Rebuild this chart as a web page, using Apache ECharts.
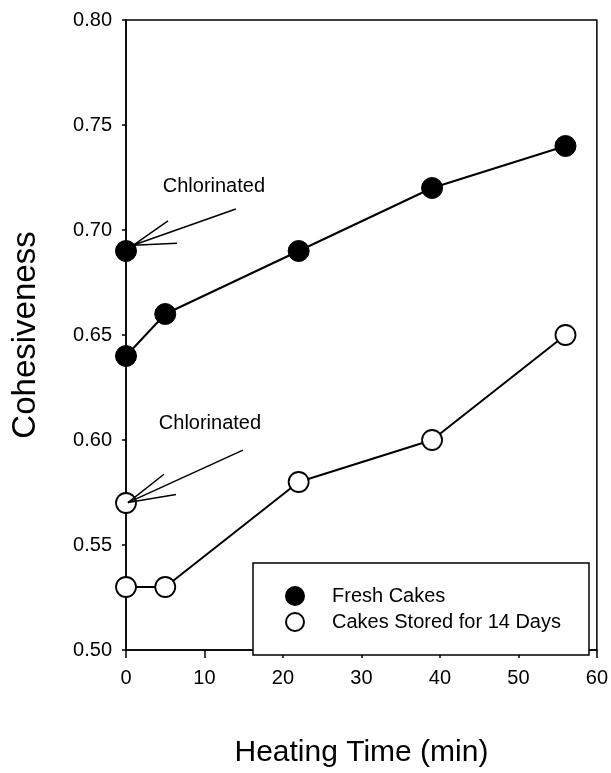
<!DOCTYPE html>
<html>
<head>
<meta charset="utf-8">
<script src="https://cdn.jsdelivr.net/npm/echarts@6/dist/echarts.min.js"></script>
<style>
  html, body { margin: 0; padding: 0; background: #fff; }
  #chart { width: 611px; height: 773px; }
</style>
</head>
<body>
<div id="chart"></div>
<script>
// heating time (min)
const timeFresh = [0, 5, 22, 39, 56]
const fresh = [0.64, 0.66, 0.69, 0.72, 0.74]
const timeStored = [0, 5, 22, 39, 56]
const stored = [0.53, 0.53, 0.58, 0.60, 0.65]
// chlorinated samples, not joined to the lines
const freshChlorinated = [[0, 0.69]]
const storedChlorinated = [[0, 0.57]]

// annotation arrows in data units: tip, tail, two head ends, text centre
const arrows = [
    { tip: [0.9, 0.6927], tail: [14.0, 0.710], heads: [[5.35, 0.7043], [6.5, 0.6937]], text: [11.2, 0.7205] },
    { tip: [0.25, 0.5702], tail: [14.9, 0.5952], heads: [[4.84, 0.5837], [6.37, 0.574]], text: [10.7, 0.6081] }
]

const font = 'Liberation Sans, Arial, Helvetica, sans-serif'

const zip = (xs, ys) => xs.map((x, i) => [x, ys[i]])

const chart = echarts.init(document.getElementById('chart'))

const option = {
    animation: false,
    backgroundColor: '#fff',
    grid: {
        left: 126,
        right: 14,
        top: 20,
        bottom: 104,
        show: true,
        borderColor: '#000',
        borderWidth: 1.5,
        backgroundColor: 'transparent'
    },
    legend: {
        data: ['Fresh Cakes', 'Cakes Stored for 14 Days'],
        orient: 'vertical',
        left: 253,
        top: 563,
        padding: [23, 28, 23, 32],
        itemGap: 6,
        itemWidth: 18,
        itemHeight: 18,
        icon: 'circle',
        borderColor: '#000',
        borderWidth: 1.5,
        backgroundColor: '#fff',
        textStyle: { fontFamily: font, fontSize: 20, lineHeight: 20, color: '#000', padding: [0, 0, 0, 23] }
    },
    xAxis: {
        type: 'value',
        min: 0,
        max: 60,
        interval: 10,
        name: 'Heating Time (min)',
        nameLocation: 'middle',
        nameGap: 88,
        nameTextStyle: { fontFamily: font, fontSize: 30, color: '#000' },
        axisLine: { lineStyle: { color: '#000', width: 1.5 } },
        axisTick: { inside: false, length: 8, lineStyle: { color: '#000', width: 1.5 } },
        axisLabel: { fontFamily: font, fontSize: 20, color: '#000', margin: 18 },
        splitLine: { show: false }
    },
    yAxis: {
        type: 'value',
        min: 0.5,
        max: 0.8,
        interval: 0.05,
        name: 'Cohesiveness',
        nameLocation: 'middle',
        nameGap: 84,
        nameTextStyle: { fontFamily: font, fontSize: 33, color: '#000' },
        axisLine: { show: true, lineStyle: { color: '#000', width: 1.5 } },
        axisTick: { show: true, inside: false, length: 4, lineStyle: { color: '#000', width: 1.5 } },
        axisLabel: {
            fontFamily: font, fontSize: 20, color: '#000', margin: 14,
            formatter: v => v.toFixed(2)
        },
        splitLine: { show: false }
    },
    series: [
        {
            name: 'Fresh Cakes',
            type: 'line',
            data: zip(timeFresh, fresh),
            symbol: 'circle',
            symbolSize: 21,
            showAllSymbol: true,
            lineStyle: { color: '#000', width: 2 },
            itemStyle: { color: '#000', borderColor: '#000', borderWidth: 1, opacity: 1 },
            z: 3
        },
        {
            name: 'Cakes Stored for 14 Days',
            type: 'line',
            data: zip(timeStored, stored),
            symbol: 'circle',
            symbolSize: 20,
            showAllSymbol: true,
            lineStyle: { color: '#000', width: 2 },
            itemStyle: { color: '#fff', borderColor: '#000', borderWidth: 1.8, opacity: 1 },
            z: 3
        },
        {
            name: 'Fresh chlorinated',
            type: 'scatter',
            data: freshChlorinated,
            symbol: 'circle',
            symbolSize: 21,
            itemStyle: { color: '#000', borderColor: '#000', borderWidth: 1, opacity: 1 },
            z: 4
        },
        {
            name: 'Stored chlorinated',
            type: 'scatter',
            data: storedChlorinated,
            symbol: 'circle',
            symbolSize: 20,
            itemStyle: { color: '#fff', borderColor: '#000', borderWidth: 1.8, opacity: 1 },
            z: 4
        }
    ]
}

chart.setOption(option)

// arrows + labels placed through the axes
const px = p => chart.convertToPixel({ gridIndex: 0 }, p)
const graphics = []
arrows.forEach(a => {
    const tip = px(a.tip)
    const ends = [a.tail].concat(a.heads).map(px)
    ends.forEach(e => {
        graphics.push({
            type: 'line',
            shape: { x1: tip[0], y1: tip[1], x2: e[0], y2: e[1] },
            style: { stroke: '#000', lineWidth: 1.5 },
            z: 10
        })
    })
    const t = px(a.text)
    graphics.push({
        type: 'text',
        x: t[0],
        y: t[1],
        style: {
            text: 'Chlorinated',
            fontFamily: font,
            fontSize: 20,
            fill: '#000',
            align: 'center',
            verticalAlign: 'middle'
        },
        z: 10
    })
})
chart.setOption({ graphic: graphics })
</script>
</body>
</html>
